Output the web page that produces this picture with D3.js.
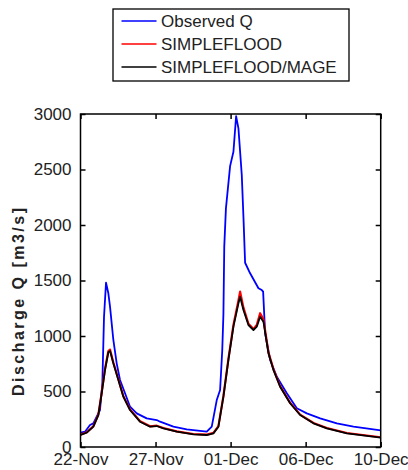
<!DOCTYPE html>
<html>
<head>
<meta charset="utf-8">
<script src="https://cdn.jsdelivr.net/npm/d3@7"></script>
<style>
  html, body { margin: 0; padding: 0; background: #fff; }
  svg { display: block; font-family: "Liberation Sans", Arial, Helvetica, sans-serif; }
</style>
</head>
<body>
<svg id="chart" width="408" height="470"></svg>
<script>
// ---- Data (days since 22-Nov 00:00) ----
const obsDays = [0, 0.27, 0.57, 0.77, 0.97, 1.17, 1.31, 1.41, 1.53, 1.67, 1.77, 1.97, 2.17, 2.37, 2.67, 2.97, 3.37, 3.97, 4.57, 4.77, 5.57, 6.37, 7.57, 7.87, 8.17, 8.37, 8.5, 8.57, 8.62, 8.72, 8.97, 9.17, 9.33, 9.47, 9.67, 9.77, 9.87, 10.17, 10.67, 10.87, 10.95, 11.07, 11.37, 11.77, 12.37, 12.97, 13.57, 14.37, 15.37, 16.37, 18];
const observedQ = [129, 138, 198, 213, 273, 333, 574, 1174, 1480, 1385, 1264, 964, 754, 604, 484, 363, 303, 258, 243, 228, 183, 159, 138, 183, 423, 514, 874, 1200, 1805, 2150, 2530, 2660, 2980, 2870, 2450, 2075, 1660, 1565, 1430, 1414, 1400, 1024, 784, 633, 484, 349, 303, 258, 213, 183, 150];

const modelDays = [0, 0.37, 0.77, 1.07, 1.27, 1.47, 1.67, 1.77, 1.97, 2.27, 2.57, 2.97, 3.57, 4.17, 4.57, 4.97, 5.77, 6.77, 7.57, 7.97, 8.27, 8.57, 8.87, 9.17, 9.47, 9.57, 9.77, 10.07, 10.37, 10.57, 10.77, 10.97, 11.27, 11.57, 11.97, 12.57, 13.17, 13.97, 14.77, 15.97, 18];
const simplefloodQ = [110, 132, 186, 292, 490, 705, 865, 878, 760, 610, 458, 338, 232, 186, 192, 171, 141, 117, 111, 127, 188, 460, 795, 1100, 1320, 1400, 1255, 1110, 1062, 1100, 1205, 1150, 852, 700, 548, 398, 292, 216, 171, 126, 88];
const mageQ = [108, 129, 183, 288, 484, 694, 852, 866, 754, 604, 453, 333, 228, 183, 189, 168, 138, 114, 108, 123, 183, 453, 784, 1084, 1294, 1354, 1234, 1099, 1054, 1084, 1174, 1129, 844, 694, 543, 394, 288, 213, 168, 123, 84];

const yTicks = [0, 500, 1000, 1500, 2000, 2500, 3000];
const xTickDays = [0, 4.5, 9, 13.5, 18];
const xTickLabels = ["22-Nov", "27-Nov", "01-Dec", "06-Dec", "10-Dec"];

const seriesNames = ["Observed Q", "SIMPLEFLOOD", "SIMPLEFLOOD/MAGE"];
const seriesColors = ["#0000ff", "#ff0000", "#000000"];

// ---- Layout ----
const svg = d3.select("#chart");
const L = 80.5, R = 380.7, T = 114, B = 447;
const x = d3.scaleLinear().domain([0, 18]).range([L, R]);
const y = d3.scaleLinear().domain([0, 3000]).range([B, T]);
const textColor = "#222";

// axes (ticks inside, MATLAB style)
const fmtX = (d, i) => xTickLabels[i];
const axB = svg.append("g").attr("transform", `translate(0,${B})`)
  .call(d3.axisBottom(x).tickValues(xTickDays).tickFormat(fmtX).tickSizeInner(-5).tickSizeOuter(0).tickPadding(6));
const axT = svg.append("g").attr("transform", `translate(0,${T})`)
  .call(d3.axisTop(x).tickValues(xTickDays).tickFormat("").tickSizeInner(-5).tickSizeOuter(0));
const axL = svg.append("g").attr("transform", `translate(${L},0)`)
  .call(d3.axisLeft(y).tickValues(yTicks).tickFormat(d3.format("d")).tickSizeInner(-5).tickSizeOuter(0).tickPadding(9));
const axR = svg.append("g").attr("transform", `translate(${R},0)`)
  .call(d3.axisRight(y).tickValues(yTicks).tickFormat("").tickSizeInner(-5).tickSizeOuter(0));

[axB, axT, axL, axR].forEach(g => {
  g.select(".domain").remove();
  g.selectAll(".tick line").attr("stroke", "#000").attr("stroke-width", 1.5);
  g.selectAll("text").attr("font-size", 17).attr("fill", textColor)
    .attr("font-family", "'Liberation Sans', Arial, sans-serif");
});
axB.selectAll("text").attr("dy", "0.71em");

// data lines
const lineObs = d3.line().x((d, i) => x(obsDays[i])).y(d => y(d));
const lineMod = d3.line().x((d, i) => x(modelDays[i])).y(d => y(d));

const plot = svg.append("g");
plot.append("path").datum(observedQ).attr("d", lineObs)
  .attr("fill", "none").attr("stroke", seriesColors[0]).attr("stroke-width", 1.8).attr("stroke-linejoin", "round");
plot.append("path").datum(simplefloodQ).attr("d", lineMod)
  .attr("fill", "none").attr("stroke", seriesColors[1]).attr("stroke-width", 2.2).attr("stroke-linejoin", "round");
plot.append("path").datum(mageQ).attr("d", lineMod)
  .attr("fill", "none").attr("stroke", seriesColors[2]).attr("stroke-width", 1.8).attr("stroke-linejoin", "round");

// plot box
svg.append("rect").attr("x", L).attr("y", T).attr("width", R - L).attr("height", B - T)
  .attr("fill", "none").attr("stroke", "#000").attr("stroke-width", 1.5);

// y label
svg.append("text")
  .attr("transform", `translate(24,${(207 + 397) / 2}) rotate(-90)`)
  .attr("text-anchor", "middle")
  .attr("font-size", 16).attr("font-weight", "bold").attr("fill", textColor)
  .attr("textLength", 188).attr("lengthAdjust", "spacing")
  .text("Discharge Q [m3/s]");

// legend
const lg = svg.append("g");
lg.append("rect").attr("x", 113).attr("y", 9).attr("width", 236).attr("height", 72)
  .attr("fill", "#fff").attr("stroke", "#000").attr("stroke-width", 1.3);
const rowY = [21, 44, 67];
seriesNames.forEach((name, i) => {
  lg.append("line").attr("x1", 121.5).attr("x2", 156.5).attr("y1", rowY[i]).attr("y2", rowY[i])
    .attr("stroke", seriesColors[i]).attr("stroke-width", 1.5);
  lg.append("text").attr("x", 161).attr("y", rowY[i]).attr("dy", "0.36em")
    .attr("font-size", 17).attr("fill", textColor).text(name);
});
</script>
</body>
</html>
